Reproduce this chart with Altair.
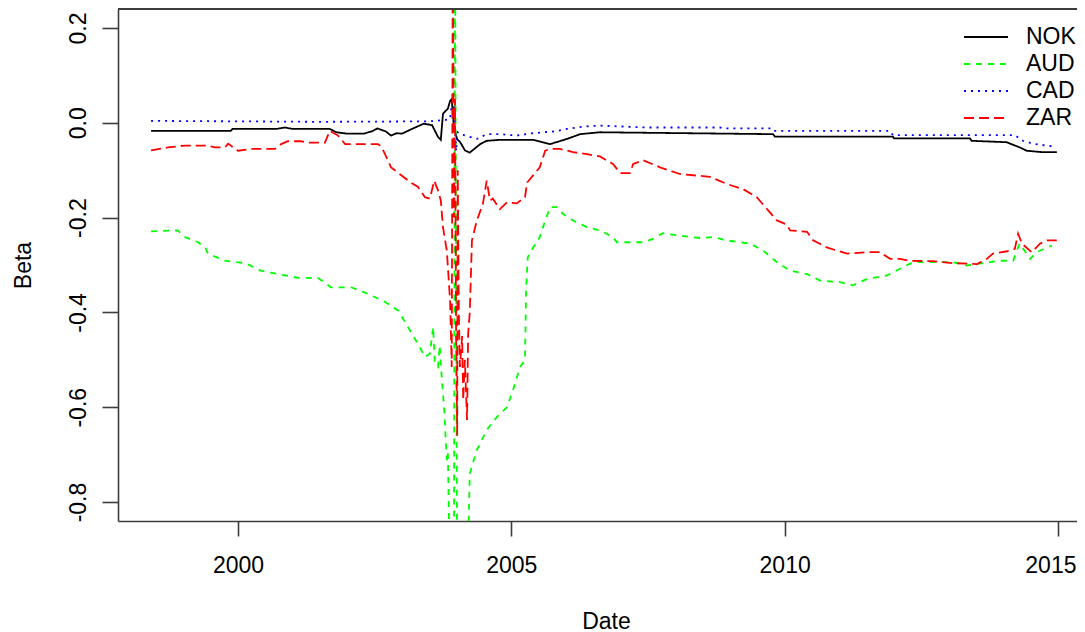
import altair as alt
import pandas as pd

FONT = "Liberation Sans"

series_names = ["NOK", "AUD", "CAD", "ZAR"]
series_colors = ["#000000", "#00FF00", "#0000FF", "#FF0000"]
series_dashes = [[1, 0], [6, 6], [2, 5], [10, 5]]

x_ticks = [2000, 2005, 2010, 2015]
y_ticks = [-0.8, -0.6, -0.4, -0.2, 0.0, 0.2]
x_domain = [1997.805, 2015.348]
y_domain = [-0.84, 0.24]

nok_year = [1998.41, 1999.87, 1999.90, 2000.70, 2000.86, 2001.00, 2001.68, 2001.80, 2002.00,
            2002.30, 2002.45, 2002.55, 2002.70, 2002.80, 2002.90, 2003.00, 2003.20, 2003.40,
            2003.55, 2003.66, 2003.71, 2003.75, 2003.84, 2003.88, 2003.91, 2003.95, 2004.01,
            2004.06, 2004.15, 2004.24, 2004.43, 2004.55, 2004.79, 2005.40, 2005.71, 2006.02,
            2006.26, 2006.62, 2009.79, 2009.82, 2011.98, 2012.00, 2013.39, 2013.42, 2014.06,
            2014.30, 2014.43, 2014.72, 2014.98]
nok_beta = [-0.017, -0.017, -0.013, -0.013, -0.010, -0.013, -0.013, -0.020, -0.023,
            -0.023, -0.018, -0.012, -0.018, -0.027, -0.022, -0.023, -0.012, -0.002,
            -0.005, -0.030, -0.036, 0.019, 0.030, 0.046, 0.050, -0.010, -0.035,
            -0.040, -0.058, -0.063, -0.045, -0.038, -0.036, -0.036, -0.045, -0.034,
            -0.024, -0.020, -0.024, -0.029, -0.029, -0.033, -0.033, -0.038, -0.041,
            -0.052, -0.059, -0.062, -0.062]

aud_year = [1998.41, 1998.90, 1999.03, 1999.27, 1999.40, 1999.45, 1999.76, 2000.13, 2000.42,
            2000.73, 2001.10, 2001.46, 2001.70, 2002.07, 2002.38, 2002.69, 2002.93, 2003.11,
            2003.29, 2003.42, 2003.51, 2003.57, 2003.60, 2003.66, 2003.69, 2003.73, 2003.77,
            2003.82, 2003.84, 2003.88, 2003.95, 2003.97, 2004.01, 2004.19, 2004.24, 2004.37,
            2004.55, 2004.74, 2004.92, 2005.03, 2005.16, 2005.25, 2005.27, 2005.30, 2005.40,
            2005.52, 2005.62, 2005.71, 2005.84, 2005.94, 2006.13, 2006.38, 2006.62, 2006.86,
            2006.93, 2007.41, 2007.59, 2007.77, 2008.08, 2008.45, 2008.69, 2008.94, 2009.37,
            2009.60, 2009.86, 2010.10, 2010.41, 2010.65, 2011.01, 2011.25, 2011.51, 2011.87,
            2012.11, 2012.35, 2012.71, 2013.08, 2013.33, 2013.63, 2013.94, 2014.18, 2014.25,
            2014.30, 2014.49, 2014.61, 2014.80, 2014.89]
aud_beta = [-0.229, -0.227, -0.241, -0.252, -0.263, -0.276, -0.291, -0.296, -0.312,
            -0.319, -0.327, -0.327, -0.347, -0.347, -0.361, -0.378, -0.396, -0.431,
            -0.466, -0.494, -0.487, -0.431, -0.508, -0.515, -0.470, -0.543, -0.600,
            -0.712, -0.697, -1.000, -1.000, 0.400, -1.000, -1.000, -0.740, -0.690,
            -0.648, -0.620, -0.600, -0.564, -0.515, -0.501, -0.354, -0.284, -0.263,
            -0.241, -0.206, -0.178, -0.178, -0.192, -0.206, -0.220, -0.227, -0.241,
            -0.252, -0.252, -0.245, -0.233, -0.238, -0.243, -0.241, -0.248, -0.255,
            -0.269, -0.294, -0.312, -0.319, -0.333, -0.336, -0.343, -0.329, -0.322,
            -0.308, -0.294, -0.294, -0.294, -0.301, -0.296, -0.291, -0.291, -0.269,
            -0.255, -0.287, -0.273, -0.263, -0.259]

cad_year = [1998.41, 2000.00, 2001.50, 2003.50, 2003.80, 2003.88, 2003.93, 2003.97, 2003.99,
            2004.02, 2004.06, 2004.19, 2004.37, 2004.55, 2004.79, 2005.10, 2005.40, 2005.80,
            2006.02, 2006.31, 2006.62, 2007.50, 2008.82, 2008.90, 2009.79, 2009.82, 2011.93,
            2011.98, 2014.21, 2014.36, 2014.54, 2014.91]
cad_beta = [0.004, 0.003, 0.002, 0.003, 0.006, 0.008, 0.060, -0.010, -0.060,
            -0.020, -0.024, -0.028, -0.034, -0.024, -0.024, -0.027, -0.022, -0.018,
            -0.013, -0.008, -0.006, -0.010, -0.010, -0.012, -0.012, -0.017, -0.017,
            -0.026, -0.026, -0.038, -0.044, -0.050]

zar_year = [1998.41, 1998.72, 1999.03, 1999.45, 1999.58, 1999.76, 1999.82, 2000.00, 2000.24,
            2000.68, 2000.79, 2000.91, 2001.15, 2001.28, 2001.59, 2001.68, 2001.83, 2001.96,
            2002.56, 2002.62, 2002.69, 2002.80, 2002.98, 2003.16, 2003.29, 2003.42, 2003.51,
            2003.59, 2003.66, 2003.71, 2003.75, 2003.82, 2003.88, 2003.91, 2003.93, 2003.95,
            2003.97, 2003.99, 2004.01, 2004.02, 2004.04, 2004.06, 2004.10, 2004.12, 2004.15,
            2004.19, 2004.21, 2004.24, 2004.28, 2004.37, 2004.48, 2004.55, 2004.61, 2004.66,
            2004.79, 2004.92, 2005.10, 2005.25, 2005.29, 2005.52, 2005.62, 2005.71, 2005.89,
            2006.13, 2006.38, 2006.62, 2006.86, 2006.99, 2007.17, 2007.23, 2007.41, 2007.72,
            2008.08, 2008.45, 2008.63, 2008.94, 2009.24, 2009.49, 2009.73, 2009.86, 2010.04,
            2010.10, 2010.41, 2010.52, 2010.77, 2011.14, 2011.51, 2011.74, 2011.93, 2012.11,
            2012.29, 2012.71, 2013.08, 2013.52, 2013.70, 2013.81, 2014.07, 2014.21, 2014.27,
            2014.34, 2014.52, 2014.67, 2014.80, 2014.98]
zar_beta = [-0.058, -0.052, -0.048, -0.048, -0.052, -0.052, -0.044, -0.059, -0.055,
            -0.055, -0.045, -0.039, -0.039, -0.042, -0.042, -0.017, -0.027, -0.045,
            -0.045, -0.050, -0.066, -0.094, -0.110, -0.126, -0.135, -0.157, -0.160,
            -0.122, -0.143, -0.164, -0.220, -0.270, -0.375, -0.515, 0.400, -0.200,
            0.050, -0.450, -0.660, -0.100, -0.400, -0.515, -0.450, -0.585, -0.500,
            -0.627, -0.445, -0.400, -0.248, -0.206, -0.171, -0.122, -0.164, -0.160,
            -0.182, -0.168, -0.170, -0.157, -0.126, -0.094, -0.059, -0.055, -0.055,
            -0.062, -0.066, -0.071, -0.087, -0.106, -0.106, -0.087, -0.079, -0.094,
            -0.108, -0.112, -0.114, -0.129, -0.140, -0.157, -0.189, -0.206, -0.215,
            -0.227, -0.230, -0.248, -0.263, -0.276, -0.273, -0.273, -0.287, -0.287,
            -0.291, -0.292, -0.296, -0.298, -0.287, -0.276, -0.271, -0.266, -0.234,
            -0.255, -0.273, -0.255, -0.248, -0.248]

frames = []
for name, yrs, vals in [("NOK", nok_year, nok_beta), ("AUD", aud_year, aud_beta),
                        ("CAD", cad_year, cad_beta), ("ZAR", zar_year, zar_beta)]:
    frames.append(pd.DataFrame({"year": yrs, "beta": vals, "series": name}))
df = pd.concat(frames, ignore_index=True)

legend = alt.Legend(
    orient="none", legendX=845, legendY=15.5, title=None,
    symbolType="stroke", symbolSize=1936, symbolStrokeWidth=1.8,
    labelFontSize=23, labelFont=FONT, labelColor="#000000", labelOffset=17,
    clipHeight=25, rowPadding=2, padding=0, labelLimit=0,
)

y_axis = alt.Axis(values=y_ticks,
                  labelExpr="replace(format(datum.value, '.1f'), '\u2212', '-')",
                  labelAngle=270, labelAlign="center", labelBaseline="alphabetic",
                  labelPadding=17, tickSize=16, title="Beta", titleAngle=270,
                  titleX=-88, titleY=256, titleAlign="center",
                  titleBaseline="alphabetic", grid=False)
y_scale = alt.Scale(domain=y_domain, nice=False, zero=False)

lines = alt.Chart(df).mark_line(strokeWidth=1.8, clip=True).encode(
    x=alt.X("year:Q",
            scale=alt.Scale(domain=x_domain, nice=False, zero=False),
            axis=alt.Axis(values=x_ticks, format="d", tickSize=15, labelPadding=18,
                          labelFlush=20, labelFlushOffset=18,
                          title="Date", titleX=488, titleY=107,
                          titleAlign="center", titleBaseline="alphabetic", grid=False)),
    y=alt.Y("beta:Q", scale=y_scale, axis=y_axis),
    color=alt.Color("series:N", scale=alt.Scale(domain=series_names, range=series_colors),
                    legend=legend),
    strokeDash=alt.StrokeDash("series:N",
                              scale=alt.Scale(domain=series_names, range=series_dashes),
                              legend=legend),
)

frame_top = alt.Chart(df).mark_rule(color="#3c3c3c", strokeWidth=1.6).encode(
    y=alt.datum(y_domain[1], scale=y_scale, axis=y_axis)
)

chart = alt.layer(lines, frame_top).properties(
    width=959, height=512,
    autosize=alt.AutoSizeParams(type="none"),
    padding={"left": 110, "top": 1, "right": 0, "bottom": 111},
).configure(font=FONT).configure_view(stroke=None).configure_axis(
    domainColor="#3c3c3c", domainWidth=1.6, tickColor="#3c3c3c", tickWidth=1.6,
    labelFont=FONT, labelFontSize=23, labelColor="#000000",
    titleFont=FONT, titleFontSize=23, titleFontWeight="normal", titleColor="#000000",
)

chart.save("out.html", embed_options={"renderer": "svg", "actions": False})
